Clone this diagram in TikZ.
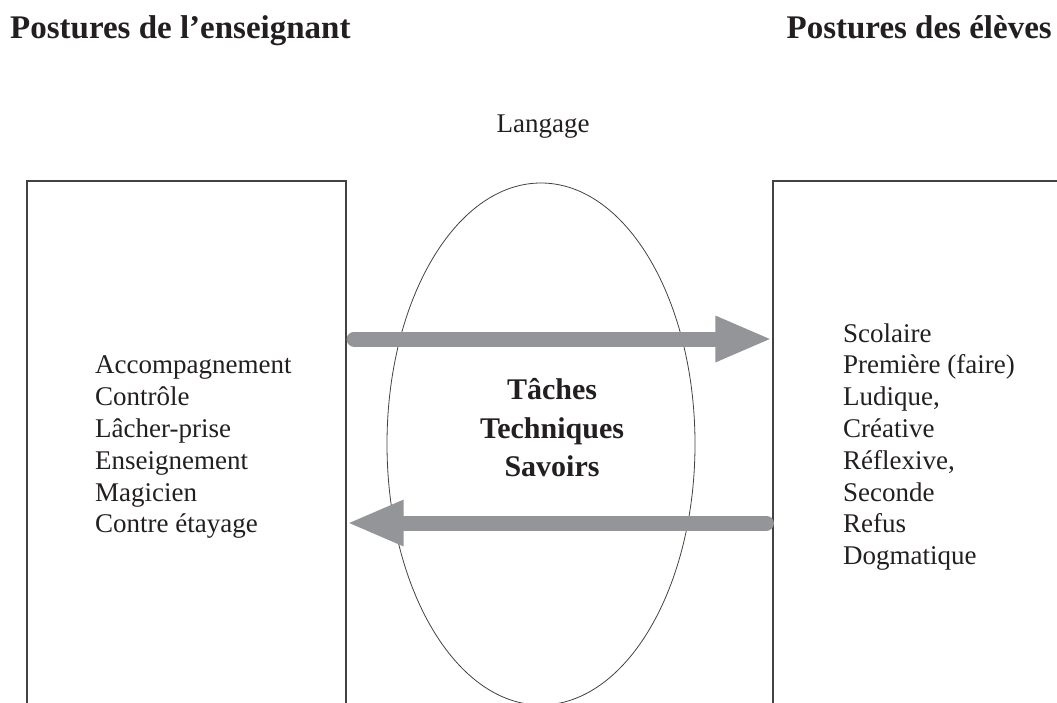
\documentclass[tikz,border=0pt]{standalone}
\usepackage{fontspec}
\setmainfont{Liberation Serif}
\usetikzlibrary{arrows.meta,shapes.geometric}

\definecolor{encre}{RGB}{35,31,32}
\definecolor{flechegris}{RGB}{147,149,152}

\tikzset{
  titre/.style={inner sep=0pt,text=encre,font=\fontsize{33}{38}\selectfont\bfseries},
  liste/.style={anchor=base west,inner sep=0pt,text=encre,font=\fontsize{27}{32}\selectfont},
  boite/.style={draw=encre!85,line width=1.2pt,inner sep=0pt},
  fleche/.style={draw=flechegris,line width=15pt,line cap=round,
    -{Triangle[length=57pt,width=42pt]}}
}

\begin{document}
\begin{tikzpicture}[x=1pt,y=1pt,yscale=-1,xscale=1]
    \useasboundingbox (0,0) rectangle (1057,702);
    \clip (0,0) rectangle (1057,702);

    % Titles
    \node[titre,anchor=base west] (tens) at (10,38) {Postures de l’enseignant};
    \node[titre,anchor=base east] (telv) at (1052,38) {Postures des élèves};
    \node[liste,anchor=base] (lang) at (543,132) {Langage};

    % Boxes (open at the bottom of the picture)
    \node[boite,minimum width=319pt,minimum height=600pt] (ens) at (186.5,481) {};
    \node[boite,minimum width=340pt,minimum height=600pt] (elv) at (943,481) {};

    % Ellipse
    \node[draw=encre!85,line width=0.8pt,ellipse,inner sep=0pt,
      minimum width=308pt,minimum height=522pt] (noyau) at (541,444) {};
    \node[inner sep=0pt,text=encre,align=center,
      font=\fontsize{30}{38.5}\selectfont\bfseries] (savoirs) at (552,428)
      {Tâches\\Techniques\\Savoirs};

    % Lists
    \foreach \t [count=\i] in {Accompagnement,Contrôle,Lâcher-prise,Enseignement,Magicien,Contre étayage}
      \node[liste] (ens\i) at (95,342+31.8*\i) {\t};
    \foreach \t [count=\i] in {Scolaire,Première (faire),{Ludique,},Créative,{Réflexive,},Seconde,Refus,Dogmatique}
      \node[liste] (elv\i) at (843,310.2+31.8*\i) {\t};

    % Arrows
    \coordinate (haut) at (0,339);
    \coordinate (bas) at (0,523);
    \draw[fleche,shorten <=7.5pt] (ens.east |- haut) -- (elv.west |- haut);
    \draw[fleche,shorten <=6pt] (elv.west |- bas) -- (ens.east |- bas);

\end{tikzpicture}
\end{document}
